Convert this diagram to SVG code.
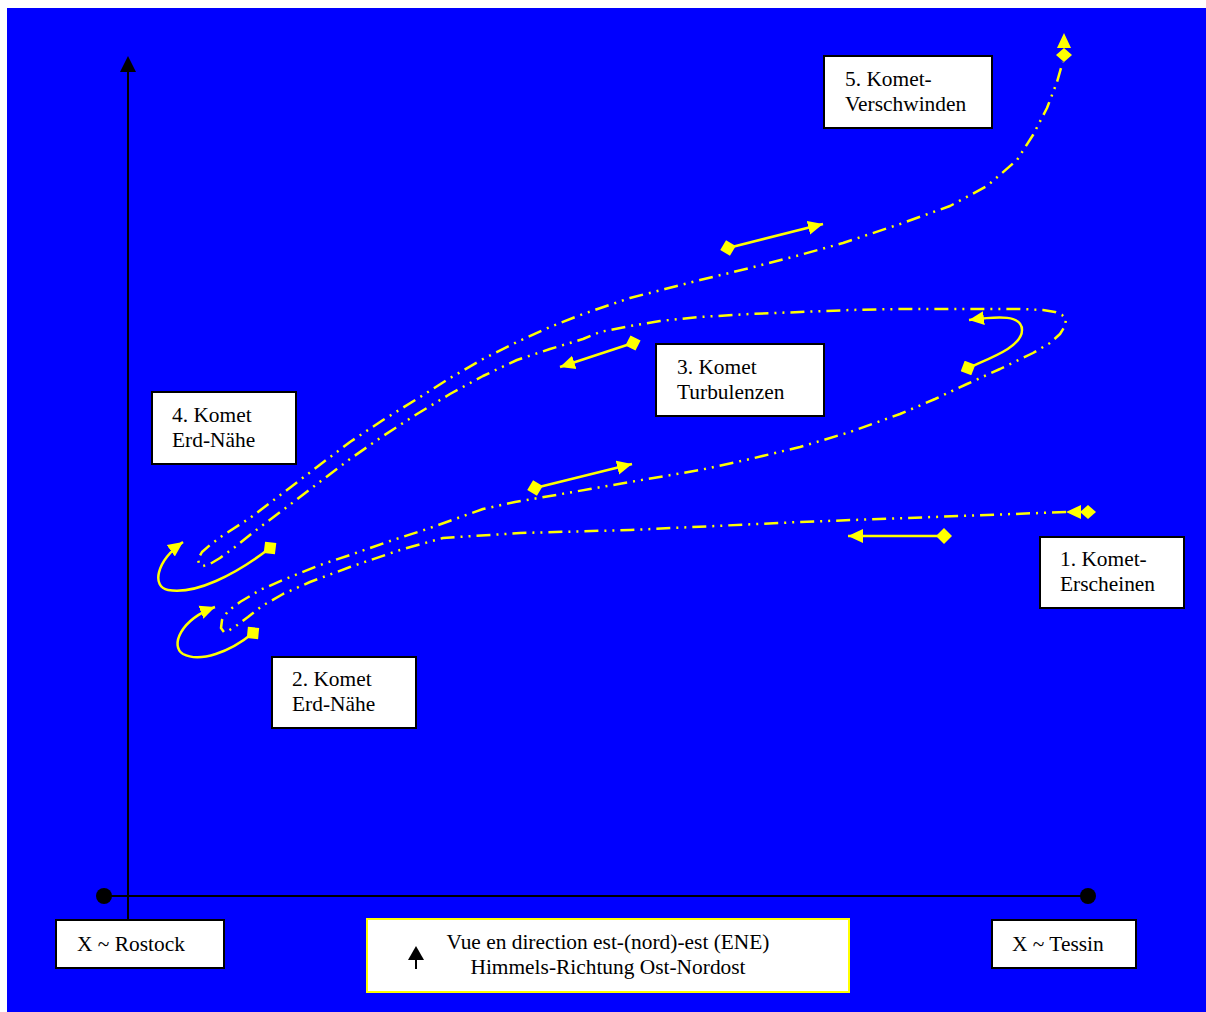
<svg xmlns="http://www.w3.org/2000/svg" width="1206" height="1012" viewBox="0 0 1206 1012">
<style>
.box{fill:#fff;stroke:#000;stroke-width:2}
.lbl{font-family:"Liberation Serif","Times New Roman",serif;font-size:21.4px;fill:#000}
.comet{fill:none;stroke:#ffff00;stroke-width:2.5;stroke-dasharray:14 6 2 6 2 6;stroke-linejoin:round}
.mv{fill:none;stroke:#ffff00;stroke-width:2.5}
.axis{stroke:#000;stroke-width:2;fill:none}
</style>
<defs>
<marker id="tri" markerUnits="userSpaceOnUse" markerWidth="16" markerHeight="16" viewBox="0 0 16 16" refX="15" refY="8" orient="auto"><path d="M0,1 L15,8 L0,15 Z" fill="#ffff00"/></marker>
<marker id="dia" markerUnits="userSpaceOnUse" markerWidth="16" markerHeight="16" viewBox="0 0 16 16" refX="8" refY="8" orient="auto"><path d="M0,8 L8,0 L16,8 L8,16 Z" fill="#ffff00"/></marker>
</defs>
<rect x="7" y="8" width="1199" height="1004" fill="#0000ff"/>
<g id="axes">
<line class="axis" x1="128" y1="70" x2="128" y2="920"/>
<polygon points="128,56 120,72 136,72" fill="#000"/>
<line class="axis" x1="104" y1="896" x2="1088" y2="896"/>
<circle cx="104" cy="896" r="8" fill="#000"/>
<circle cx="1088" cy="896" r="8" fill="#000"/>
</g>
<g id="connectors">
<path class="comet" d="M1066,512 L800,522 L630,530 L520,533 L443,538 L400,550 L350,567 L310,582 L283,594 L262,606 L248,617 L236,626 L228,631 L224,632 L221,628 L222,620 L228,611 L240,602 L260,590 L283,580 L320,565 L350,555 L390,541 L427,529 L455,519 L483,509 L515,502 L550,496 L590,489 L630,482 L700,470 L750,459 L800,447 L850,432 L900,414 L935,399 L967,384 L1000,369 L1033,353 L1050,343 L1060,334 L1065,326 L1066,319 L1062,315 L1055,312 L1043,310 L1020,309 L1000,309 L950,309 L900,309 L850,310 L800,312 L750,314 L700,317 L660,321 L630,326 L600,332 L583,339 L550,349 L517,360 L483,376 L450,394 L417,414 L383,436 L350,459 L317,484 L283,510 L255,531 L235,547 L220,558 L210,564 L203,566 L199,564 L198,559 L202,552 L210,545 L222,536 L250,518 L283,493 L317,467 L350,442 L383,420 L417,399 L450,378 L483,359 L517,342 L550,327 L583,314 L630,298 L665,289 L700,280 L750,268 L800,255 L843,243 L900,224 L950,206 L987,186 L1017,160 L1033,135 L1047,108 L1057,82 L1061,68 L1063,62"/>
<polygon points="1066,512 1081,505 1081,519" fill="#ffff00"/>
<polygon points="1080,512 1088,505 1096,512 1088,519" fill="#ffff00"/>
<polygon points="1064,33 1057,48 1071,48" fill="#ffff00"/>
<polygon points="1064,48 1072,55 1064,62 1056,55" fill="#ffff00"/>
<line class="mv" x1="944" y1="536" x2="848" y2="536" marker-start="url(#dia)" marker-end="url(#tri)"/>
<line class="mv" x1="535" y1="488" x2="632" y2="464" marker-start="url(#dia)" marker-end="url(#tri)"/>
<line class="mv" x1="728" y1="248" x2="823" y2="224" marker-start="url(#dia)" marker-end="url(#tri)"/>
<line class="mv" x1="633" y1="343" x2="560" y2="367" marker-start="url(#dia)" marker-end="url(#tri)"/>
<path class="mv" d="M968,368 C990,358 1022,347 1022,330 C1022,315 1000,316 969,320" marker-start="url(#dia)" marker-end="url(#tri)"/>
<path class="mv" d="M270,548 C235,575 195,595 168,590 C152,587 155,562 183,542" marker-start="url(#dia)" marker-end="url(#tri)"/>
<path class="mv" d="M253,633 C230,652 200,663 183,654 C170,646 180,620 215,607" marker-start="url(#dia)" marker-end="url(#tri)"/>
</g>
<g id="n5">
<rect class="box" x="824" y="56" width="168" height="72"/>
<text class="lbl" x="845" y="86">5. Komet-</text>
<text class="lbl" x="845" y="111">Verschwinden</text>
</g>
<g id="n3">
<rect class="box" x="656" y="344" width="168" height="72"/>
<text class="lbl" x="677" y="374">3. Komet</text>
<text class="lbl" x="677" y="399">Turbulenzen</text>
</g>
<g id="n4">
<rect class="box" x="152" y="392" width="144" height="72"/>
<text class="lbl" x="172" y="422">4. Komet</text>
<text class="lbl" x="172" y="447">Erd-Nähe</text>
</g>
<g id="n2">
<rect class="box" x="272" y="657" width="144" height="71"/>
<text class="lbl" x="292" y="686">2. Komet</text>
<text class="lbl" x="292" y="711">Erd-Nähe</text>
</g>
<g id="n1">
<rect class="box" x="1040" y="537" width="144" height="71"/>
<text class="lbl" x="1060" y="566">1. Komet-</text>
<text class="lbl" x="1060" y="591">Erscheinen</text>
</g>
<g id="rostock">
<rect class="box" x="56" y="920" width="168" height="48"/>
<text class="lbl" x="77" y="951">X ~ Rostock</text>
</g>
<g id="tessin">
<rect class="box" x="992" y="920" width="144" height="48"/>
<text class="lbl" x="1012" y="951">X ~ Tessin</text>
</g>
<g id="legend">
<rect x="367" y="919" width="482" height="73" fill="#fff" stroke="#ffff00" stroke-width="2"/>
<line x1="416" y1="958" x2="416" y2="969" stroke="#000" stroke-width="2"/>
<polygon points="416,946 408,960 424,960" fill="#000"/>
<text class="lbl" x="608" y="949" text-anchor="middle">Vue en direction est-(nord)-est (ENE)</text>
<text class="lbl" x="608" y="974" text-anchor="middle">Himmels-Richtung Ost-Nordost</text>
</g>
</svg>
